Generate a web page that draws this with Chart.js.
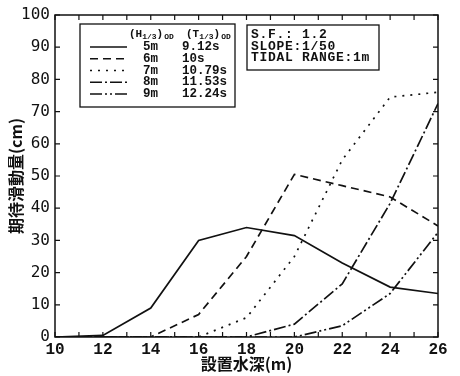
<!DOCTYPE html>
<html>
<head>
<meta charset="utf-8">
<script src="https://cdn.jsdelivr.net/npm/chart.js@4"></script>
<style>
  html, body { margin: 0; padding: 0; background: #fff; }
  #wrap { width: 460px; height: 376px; }
</style>
</head>
<body>
<div id="wrap"><canvas id="grafico"></canvas></div>
<script>
// profundidades (m)
const depths = [10, 12, 14, 16, 18, 20, 22, 24, 26];
const waveH = ["5m", "6m", "7m", "8m", "9m"];
const waveT = ["9.12s", "10s", "10.79s", "11.53s", "12.24s"];
const h5 = [0, 0.5, 9, 30, 34, 31.5, 23, 15.5, 13.5];
const h6 = [0, 0, 0, 7, 25, 50.5, 47, 43.5, 34.5];
const h7 = [0, 0, 0, 0, 6, 25, 55, 74.5, 76];
const h8 = [0, 0, 0, 0, 0, 4, 16.5, 41.5, 72.5];
const h9 = [0, 0, 0, 0, 0, 0, 3.5, 13.5, 32.5];
const infoLines = ["S.F.: 1.2", "SLOPE:1/50", "TIDAL RANGE:1m"];

const dashes = [[], [8, 5], [2, 6], [12, 3, 2, 3], [12, 3, 2, 3, 2, 3]];
const series = [h5, h6, h7, h8, h9];

const datasets = series.map((vals, i) => ({
  label: waveH[i],
  data: vals.map((v, j) => ({ x: depths[j], y: v })),
  borderColor: "#111",
  borderWidth: 1.7,
  borderDash: dashes[i],
  pointRadius: 0,
  tension: 0,
  fill: false
}));

// marco, marcas hacia dentro, leyenda y recuadro de texto
const marcoPlugin = {
  id: "marco",
  afterDraw(chart) {
    const ctx = chart.ctx;
    const a = chart.chartArea;
    const xs = chart.scales.x, ys = chart.scales.y;
    ctx.save();
    ctx.strokeStyle = "#111";
    ctx.lineWidth = 1.5;
    ctx.setLineDash([]);
    ctx.strokeRect(a.left, a.top, a.right - a.left, a.bottom - a.top);
    ctx.lineWidth = 1.2;
    for (let v = 10; v <= 26; v++) {
      const px = xs.getPixelForValue(v);
      ctx.beginPath();
      ctx.moveTo(px, a.bottom); ctx.lineTo(px, a.bottom - 5);
      ctx.moveTo(px, a.top); ctx.lineTo(px, a.top + 5);
      ctx.stroke();
    }
    for (let v = 0; v <= 100; v += 10) {
      const py = ys.getPixelForValue(v);
      ctx.beginPath();
      ctx.moveTo(a.left, py); ctx.lineTo(a.left + 5, py);
      ctx.moveTo(a.right, py); ctx.lineTo(a.right - 5, py);
      ctx.stroke();
    }

    // leyenda
    const lx = 80, ly = 24, lw = 155, lh = 83;
    ctx.fillStyle = "#fff";
    ctx.fillRect(lx, ly, lw, lh);
    ctx.lineWidth = 1.3;
    ctx.strokeRect(lx, ly, lw, lh);
    ctx.fillStyle = "#111";
    ctx.textBaseline = "middle";
    const big = "bold 11px 'Liberation Mono'";
    const small = "bold 8px 'Liberation Mono'";
    function cabecera(x, y, letra) {
      ctx.font = big; ctx.fillText("(" + letra, x, y);
      let w = ctx.measureText("(" + letra).width;
      ctx.font = small; ctx.fillText("1/3", x + w, y + 3);
      w += ctx.measureText("1/3").width;
      ctx.font = big; ctx.fillText(")", x + w, y);
      w += ctx.measureText(")").width;
      ctx.font = small; ctx.fillText("OD", x + w + 1, y + 3);
    }
    cabecera(129, 34, "H");
    cabecera(186, 34, "T");
    ctx.font = "bold 12.5px 'Liberation Mono'";
    for (let i = 0; i < waveH.length; i++) {
      const y = 47 + i * 11.75;
      ctx.setLineDash(dashes[i]);
      ctx.lineWidth = 1.7;
      ctx.beginPath();
      ctx.moveTo(90, y); ctx.lineTo(127, y);
      ctx.stroke();
      ctx.setLineDash([]);
      ctx.fillText(waveH[i], 143, y);
      ctx.fillText(waveT[i], 182, y);
    }

    // recuadro de condiciones
    const bx = 247, by = 25, bw = 132, bh = 45;
    ctx.fillStyle = "#fff";
    ctx.fillRect(bx, by, bw, bh);
    ctx.lineWidth = 1.3;
    ctx.strokeRect(bx, by, bw, bh);
    ctx.fillStyle = "#111";
    ctx.font = "bold 13px 'Liberation Mono'";
    ctx.letterSpacing = "0.7px";
    infoLines.forEach((t, i) => ctx.fillText(t, 251, 35 + i * 11.3));
    ctx.restore();
  }
};

new Chart(document.getElementById("grafico"), {
  type: "line",
  data: { datasets },
  options: {
    responsive: true,
    maintainAspectRatio: false,
    animation: false,
    layout: { padding: { left: 0, right: 22, top: 15, bottom: 0 } },
    plugins: { legend: { display: false }, tooltip: { enabled: false } },
    scales: {
      x: {
        type: "linear",
        min: 10,
        max: 26,
        grid: { display: false, drawTicks: false },
        border: { display: false },
        ticks: {
          stepSize: 2,
          padding: 3,
          color: "#111",
          font: { family: "'Liberation Mono'", size: 16, weight: "bold" }
        },
        title: {
          display: true,
          text: "設置水深(m)",
          color: "#111",
          padding: { top: 0, bottom: 2 },
          font: { family: "'Noto Sans CJK JP'", size: 16, weight: "bold" }
        },
        afterFit(s) { s.height = 39; }
      },
      y: {
        min: 0,
        max: 100,
        grid: { display: false, drawTicks: false },
        border: { display: false },
        ticks: {
          stepSize: 10,
          padding: 5,
          color: "#111",
          font: { family: "'DejaVu Sans Mono'", size: 16 }
        },
        title: {
          display: true,
          text: "期待滑動量(cm)",
          color: "#111",
          padding: { top: 6, bottom: 0 },
          font: { family: "'Noto Sans CJK JP'", size: 16, weight: "bold" }
        },
        afterFit(s) { s.width = 55; }
      }
    }
  },
  plugins: [marcoPlugin]
});
</script>
</body>
</html>
